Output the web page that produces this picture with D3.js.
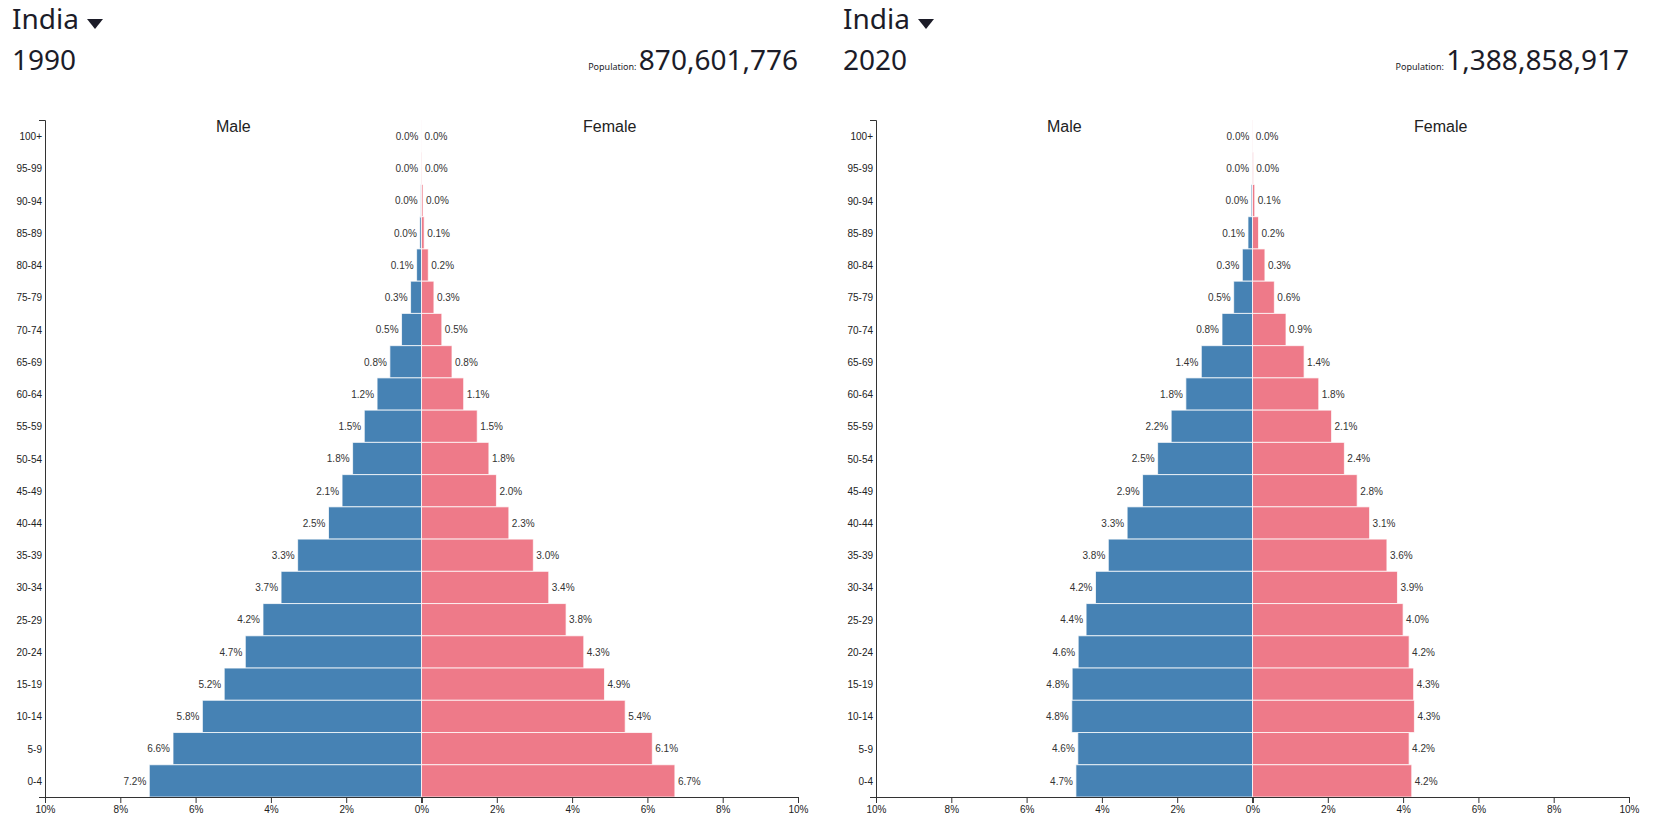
<!DOCTYPE html>
<html>
<head>
<meta charset="utf-8">
<script src="https://cdn.jsdelivr.net/npm/d3@7"></script>
<style>
  body { margin: 0; background: #fff; }
  svg { display: block; }
  .tick text { font-family: "Liberation Sans", Arial, sans-serif; font-size: 10px; fill: #222; }
  .domain, .tick line { stroke: #333; }
</style>
</head>
<body>
<svg id="chart" width="1656" height="836"></svg>
<script>
const ageGroups = ["100+", "95-99", "90-94", "85-89", "80-84", "75-79", "70-74", "65-69",
  "60-64", "55-59", "50-54", "45-49", "40-44", "35-39", "30-34", "25-29", "20-24",
  "15-19", "10-14", "5-9", "0-4"];

const country = "India";
const years = ["1990", "2020"];
const populations = [870601776, 1388858917];

// percent of total population, top (100+) to bottom (0-4)
const male1990 = [0.002, 0.006, 0.02, 0.045, 0.13, 0.29, 0.53, 0.84, 1.18, 1.52, 1.83, 2.11,
  2.47, 3.29, 3.73, 4.21, 4.68, 5.24, 5.82, 6.60, 7.23];
const female1990 = [0.003, 0.012, 0.04, 0.07, 0.18, 0.33, 0.54, 0.81, 1.12, 1.48, 1.79, 1.99,
  2.32, 2.97, 3.38, 3.84, 4.31, 4.86, 5.41, 6.13, 6.73];
const male2020 = [0.004, 0.012, 0.035, 0.12, 0.27, 0.50, 0.81, 1.36, 1.77, 2.16, 2.52, 2.92,
  3.33, 3.83, 4.17, 4.42, 4.63, 4.79, 4.80, 4.64, 4.69];
const female2020 = [0.006, 0.02, 0.06, 0.16, 0.33, 0.58, 0.89, 1.37, 1.76, 2.10, 2.44, 2.78,
  3.11, 3.57, 3.85, 4.00, 4.16, 4.28, 4.30, 4.16, 4.23];

const xTicks = [0, 2, 4, 6, 8, 10];
const xMax = 10;

const panels = [
  { year: years[0], population: populations[0], male: male1990, female: female1990 },
  { year: years[1], population: populations[1], male: male2020, female: female2020 }
];

const svg = d3.select("#chart");
const headFont = "'Noto Sans', 'Open Sans', sans-serif";
const bodyFont = "'Liberation Sans', Arial, sans-serif";
const textColor = "#1c1c28";

const panelWidth = 831;
const plotLeft = 45, plotRight = 798, plotTop = 120, plotBottom = 797;
const mid = (plotLeft + plotRight) / 2;

const y = d3.scaleBand().domain(ageGroups).range([plotTop, plotBottom]).padding(0);
const xLeft = d3.scaleLinear().domain([xMax, 0]).range([plotLeft, mid]);
const xRight = d3.scaleLinear().domain([0, xMax]).range([mid, plotRight]);

panels.forEach((p, i) => {
  const g = svg.append("g").attr("transform", `translate(${i * panelWidth},0)`);

  // header
  g.append("text")
    .attr("x", 12).attr("y", 29)
    .attr("font-family", headFont).attr("font-size", 28)
    .attr("fill", textColor)
    .text(country);
  g.append("path")
    .attr("d", "M87,19 L103,19 L95,29 Z")
    .attr("fill", textColor);
  g.append("text")
    .attr("x", 12).attr("y", 70)
    .attr("font-family", headFont).attr("font-size", 28)
    .attr("fill", textColor)
    .text(p.year);
  const pop = g.append("text")
    .attr("x", plotRight).attr("y", 70)
    .attr("text-anchor", "end")
    .attr("font-family", headFont)
    .attr("fill", textColor);
  pop.append("tspan").attr("font-size", 9).text("Population: ");
  pop.append("tspan").attr("font-size", 28).text(d3.format(",")(p.population));

  // side labels
  g.append("text")
    .attr("x", (plotLeft + mid) / 2).attr("y", 132)
    .attr("text-anchor", "middle")
    .attr("font-family", bodyFont).attr("font-size", 16)
    .attr("fill", "#222")
    .text("Male");
  g.append("text")
    .attr("x", (mid + plotRight) / 2).attr("y", 132)
    .attr("text-anchor", "middle")
    .attr("font-family", bodyFont).attr("font-size", 16)
    .attr("fill", "#222")
    .text("Female");

  const rows = ageGroups.map((a, k) => ({ age: a, male: p.male[k], female: p.female[k] }));

  // bars
  g.selectAll(".male")
    .data(rows)
    .enter()
    .append("rect")
    .attr("class", "male")
    .attr("x", (d) => xLeft(d.male))
    .attr("y", (d) => y(d.age))
    .attr("width", (d) => mid - xLeft(d.male))
    .attr("height", y.bandwidth())
    .attr("fill", "#4682b4")
    .attr("stroke", "#fff")
    .attr("stroke-opacity", 0.75)
    .attr("stroke-width", 1);

  g.selectAll(".female")
    .data(rows)
    .enter()
    .append("rect")
    .attr("class", "female")
    .attr("x", mid)
    .attr("y", (d) => y(d.age))
    .attr("width", (d) => xRight(d.female) - mid)
    .attr("height", y.bandwidth())
    .attr("fill", "#ee7a89")
    .attr("stroke", "#fff")
    .attr("stroke-opacity", 0.75)
    .attr("stroke-width", 1);

  // value labels
  g.selectAll(".mlabel")
    .data(rows)
    .enter()
    .append("text")
    .attr("x", (d) => xLeft(d.male) - 3)
    .attr("y", (d) => y(d.age) + y.bandwidth() / 2)
    .attr("dy", "0.38em")
    .attr("text-anchor", "end")
    .attr("font-family", bodyFont).attr("font-size", 10)
    .attr("fill", "#333")
    .text((d) => d.male.toFixed(1) + "%");

  g.selectAll(".flabel")
    .data(rows)
    .enter()
    .append("text")
    .attr("x", (d) => xRight(d.female) + 3)
    .attr("y", (d) => y(d.age) + y.bandwidth() / 2)
    .attr("dy", "0.38em")
    .attr("text-anchor", "start")
    .attr("font-family", bodyFont).attr("font-size", 10)
    .attr("fill", "#333")
    .text((d) => d.female.toFixed(1) + "%");

  // axes
  g.append("g")
    .attr("transform", `translate(${plotLeft},0)`)
    .call(d3.axisLeft(y).tickSizeInner(0).tickSizeOuter(6).tickPadding(3))
    .selectAll(".tick text").attr("dy", "0.4em");

  // left axis skips the 0% label so it is not drawn twice
  g.append("g")
    .attr("transform", `translate(0,${plotBottom})`)
    .call(d3.axisBottom(xLeft).tickValues(xTicks).tickFormat((d) => (d === 0 ? "" : d + "%")));

  g.append("g")
    .attr("transform", `translate(0,${plotBottom})`)
    .call(d3.axisBottom(xRight).tickValues(xTicks).tickFormat((d) => d + "%"));
});
</script>
</body>
</html>
